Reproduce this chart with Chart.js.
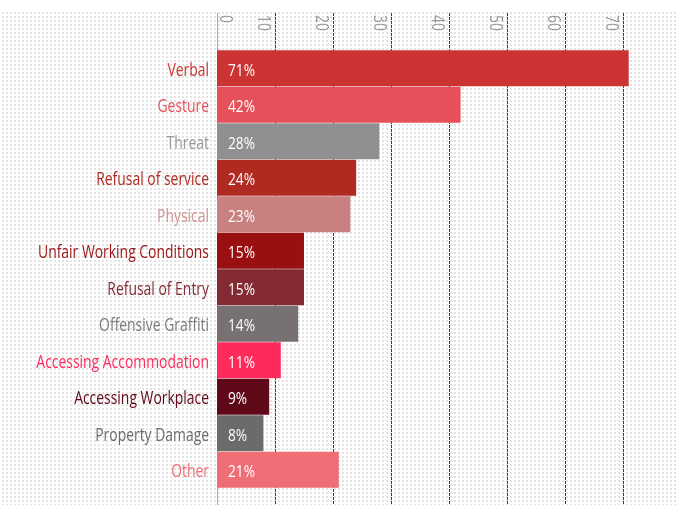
<!DOCTYPE html>
<html><head><meta charset="utf-8">
<script src="https://cdn.jsdelivr.net/npm/chart.js@4"></script>
<style>html,body{margin:0;padding:0;background:#fff;overflow:hidden}#wrap{width:678px;height:505px;position:relative}</style>
</head><body><div id="wrap"><canvas id="c"></canvas></div>
<script>
const categories = ["Verbal","Gesture","Threat","Refusal of service","Physical","Unfair Working Conditions","Refusal of Entry","Offensive Graffiti","Accessing Accommodation","Accessing Workplace","Property Damage","Other"];
const values = [71,42,28,24,23,15,15,14,11,9,8,21];
const barColors = ["#cc3434","#e5505a","#909090","#b02a22","#c88080","#9a1010","#832a33","#787171","#ff2a5c","#5e0818","#6b6b6b","#ef6e76"];
const labelColors = ["#cc3434","#e5505a","#999999","#b02a22","#d49292","#9a1515","#832a33","#7a7a7a","#ff2a5c","#5e0818","#6b6b6b","#ef6e76"];
const tickValues = [0,10,20,30,40,50,60,70];
const FONT = "'Open Sans',sans-serif";

let squeeze = 0.8, valSqueeze = 0.85;

const bgPlugin = {
  id: 'bg',
  beforeDatasetsDraw(chart) {
    const ctx = chart.ctx, W = chart.width, H = chart.height;
    const xs = chart.scales.x;
    ctx.save();
    ctx.font = '18px ' + FONT;
    squeeze = 171 / ctx.measureText('Unfair Working Conditions').width;
    ctx.font = '17px ' + FONT;
    valSqueeze = 27 / ctx.measureText('71%').width;
    ctx.fillStyle = '#e3e3e3';
    for (let y = 12; y < H; y += 4) for (let x = 2; x < W; x += 4) ctx.fillRect(x, y, 2, 2);
    tickValues.forEach(v => {
      const px = Math.round(xs.getPixelForValue(v)) + 0.5;
      ctx.beginPath();
      if (v === 0) { ctx.setLineDash([]); ctx.strokeStyle = '#a8a8a8'; }
      else { ctx.setLineDash([3,1]); ctx.strokeStyle = '#3f3f3f'; }
      ctx.lineWidth = 1;
      ctx.moveTo(px, 13); ctx.lineTo(px, H);
      ctx.stroke();
    });
    ctx.setLineDash([]);
    ctx.fillStyle = '#999999';
    ctx.font = '18px ' + FONT;
    ctx.textAlign = 'left';
    ctx.textBaseline = 'alphabetic';
    tickValues.forEach(v => {
      const px = xs.getPixelForValue(v);
      const dx = v === 0 ? 3 : -17;
      ctx.save();
      ctx.translate(px + dx, 15);
      ctx.rotate(Math.PI / 2);
      ctx.scale(squeeze, 1);
      ctx.fillText(String(v), 0, 0);
      ctx.restore();
    });
    ctx.restore();
  }
};

const labelPlugin = {
  id: 'labels',
  afterDatasetsDraw(chart) {
    const ctx = chart.ctx;
    const meta = chart.getDatasetMeta(0);
    const ys = chart.scales.y;
    ctx.save();
    ctx.textBaseline = 'alphabetic';
    meta.data.forEach((bar, i) => {
      const y = ys.getPixelForTick(i);
      ctx.font = '18px ' + FONT;
      ctx.fillStyle = labelColors[i];
      ctx.textAlign = 'right';
      ctx.save();
      ctx.translate(chart.chartArea.left - 8, y + 7.5);
      ctx.scale(squeeze, 1);
      ctx.fillText(categories[i], 0, 0);
      ctx.restore();
      ctx.font = '17px ' + FONT;
      ctx.fillStyle = '#ffffff';
      ctx.textAlign = 'left';
      ctx.save();
      ctx.translate(bar.base + 11, y + 7.5);
      ctx.scale(valSqueeze, 1);
      ctx.fillText(values[i] + '%', 0, 0);
      ctx.restore();
    });
    ctx.restore();
  }
};

new Chart(document.getElementById('c'), {
  type: 'bar',
  data: {
    labels: categories,
    datasets: [{ data: values, backgroundColor: barColors, borderWidth: 0, barPercentage: 1, categoryPercentage: 0.985 }]
  },
  options: {
    indexAxis: 'y',
    responsive: true,
    maintainAspectRatio: false,
    animation: false,
    layout: { padding: { top: 50, bottom: 17, left: 0, right: 0 } },
    plugins: { legend: { display: false }, tooltip: { enabled: false } },
    scales: {
      x: { display: false, min: 0, max: 79.5 },
      y: {
        grid: { display: false, drawTicks: false },
        border: { display: false },
        ticks: { display: false },
        afterFit: s => { s.width = 217; }
      }
    }
  },
  plugins: [bgPlugin, labelPlugin]
});
</script></body></html>
